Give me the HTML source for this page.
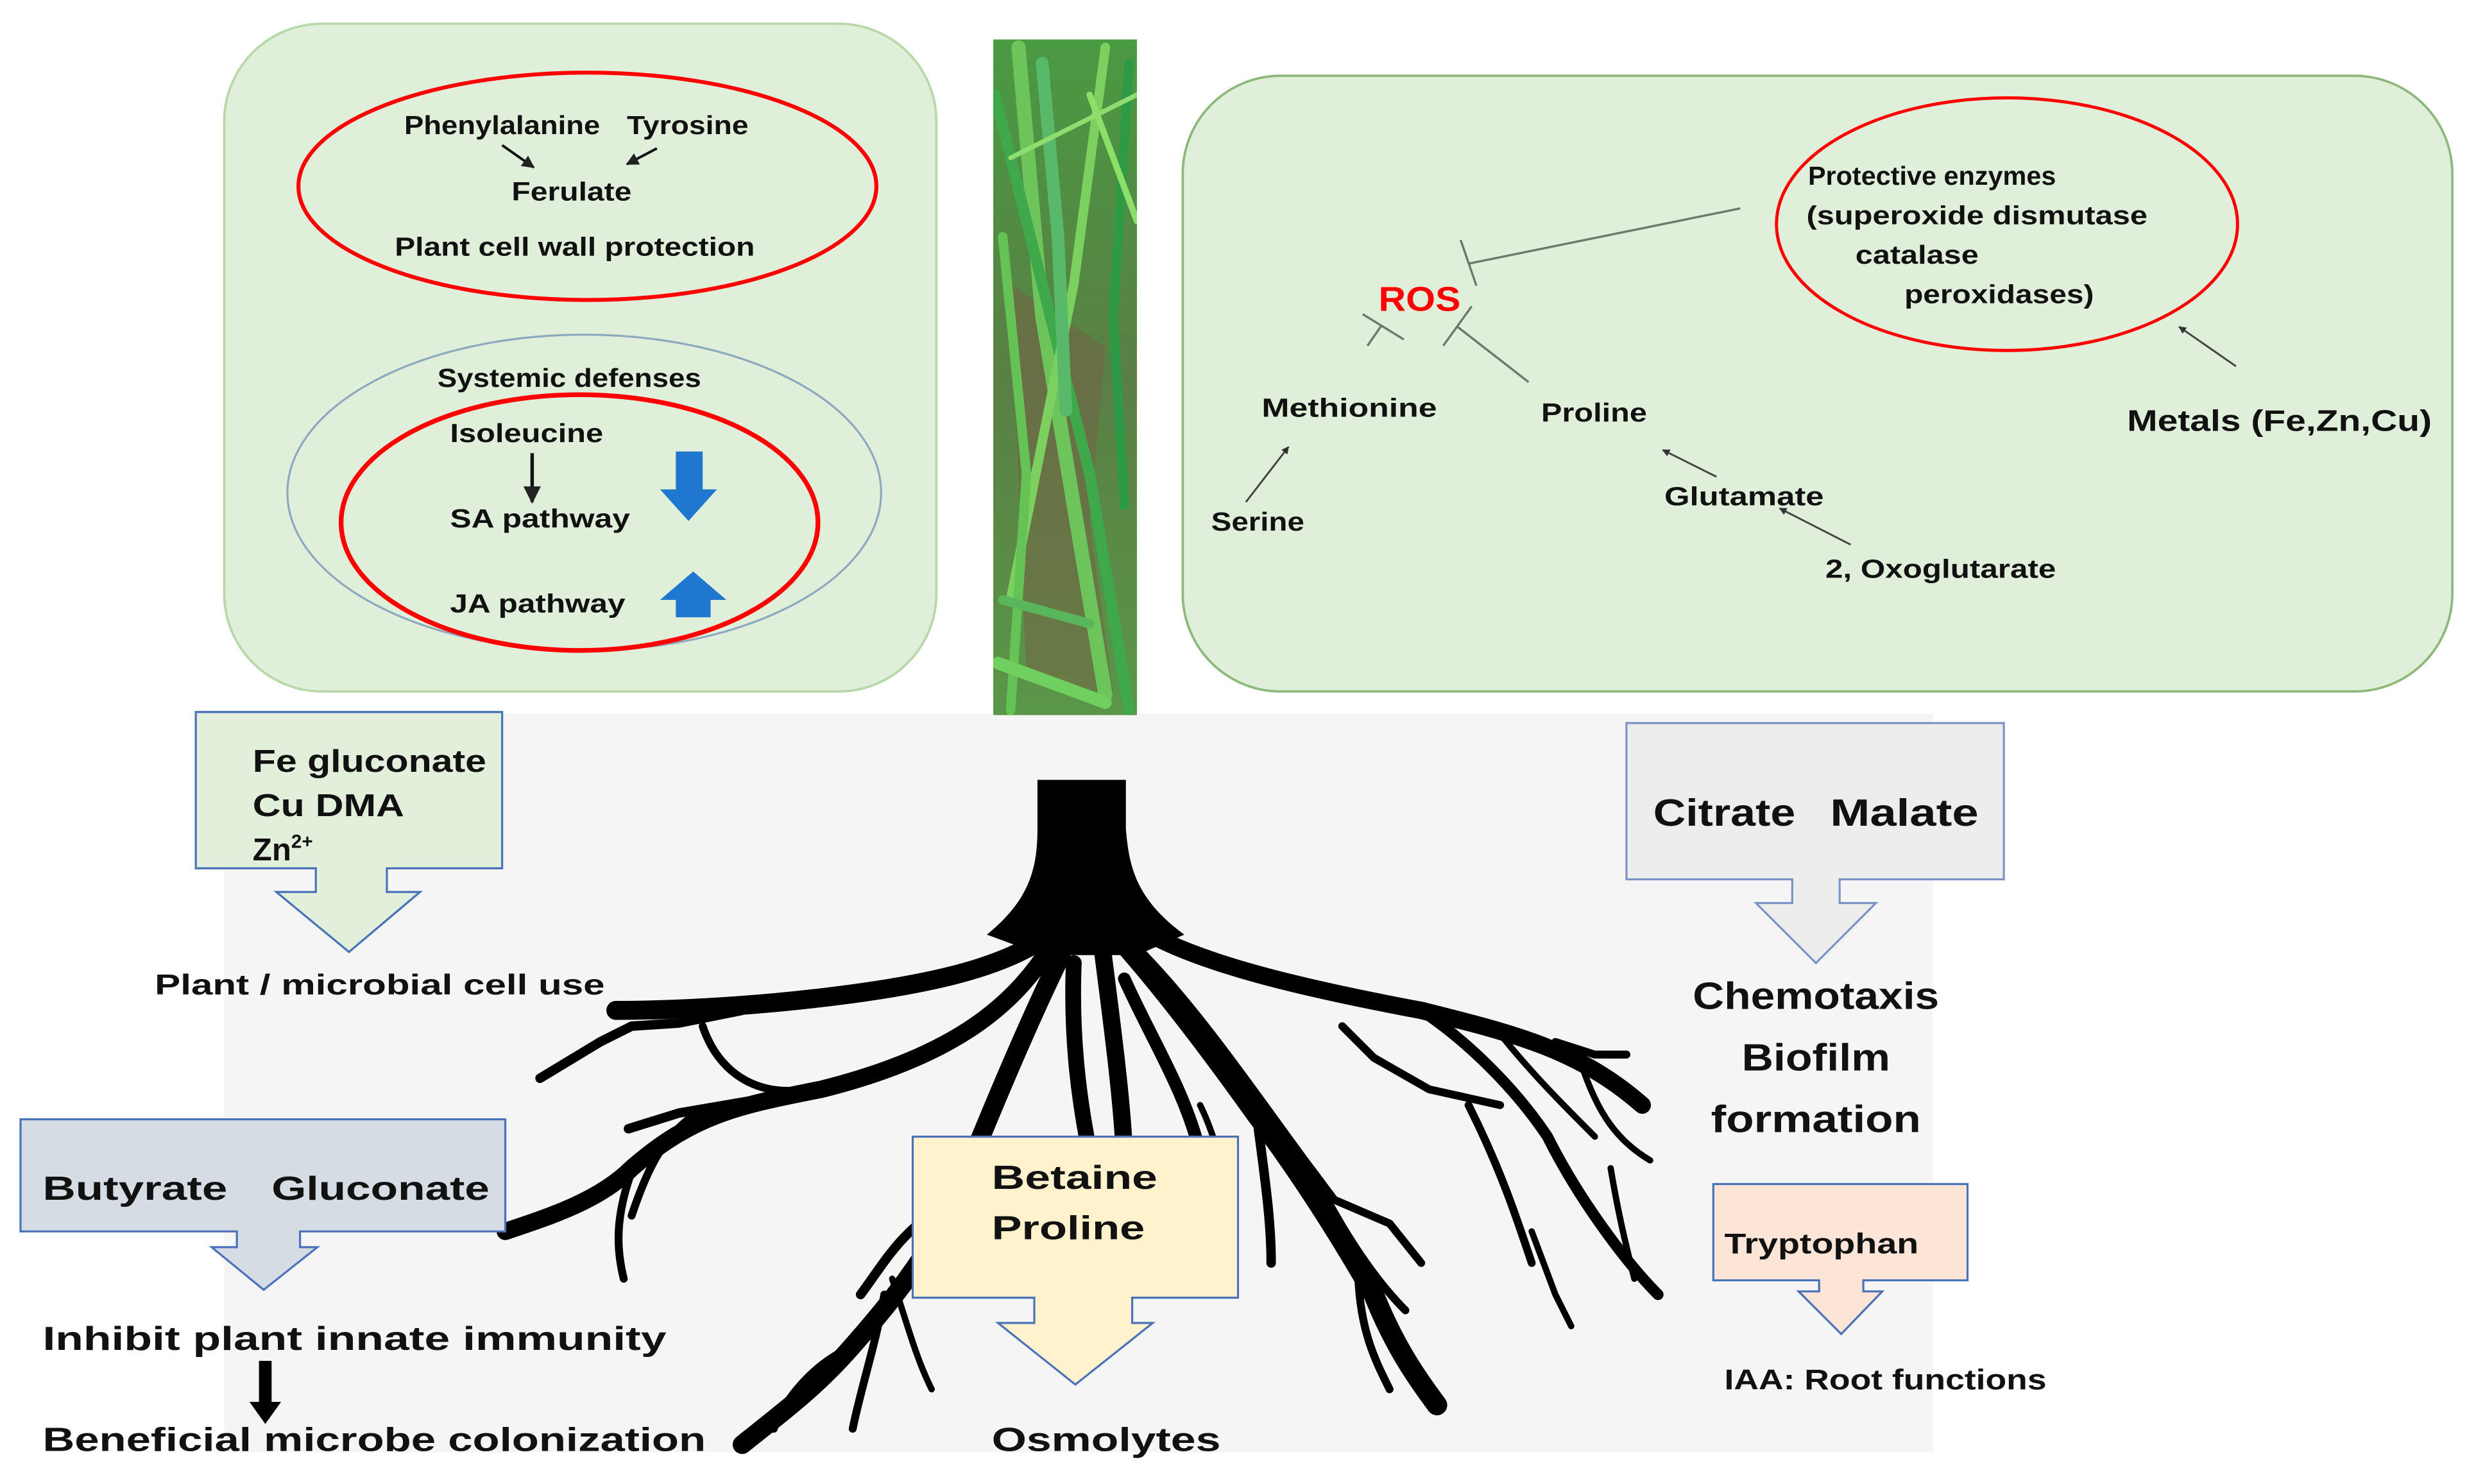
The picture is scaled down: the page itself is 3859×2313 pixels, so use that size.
<!DOCTYPE html>
<html><head><meta charset="utf-8"><style>
html,body{margin:0;padding:0;background:#fff}
svg{display:block}
text{font-family:"Liberation Sans",sans-serif;font-weight:bold;fill:#111}
</style></head><body>
<svg width="3859" height="2313" viewBox="0 0 1568 940" preserveAspectRatio="none" xmlns="http://www.w3.org/2000/svg">
<defs>
<marker id="ah" viewBox="0 0 10 10" refX="9" refY="5" markerWidth="5" markerHeight="5" orient="auto"><path d="M0,0L10,5L0,10z" fill="#222"/></marker>
<marker id="ah2" viewBox="0 0 10 10" refX="9" refY="5" markerWidth="4" markerHeight="4" orient="auto"><path d="M0,0L10,5L0,10z" fill="#333"/></marker>
<linearGradient id="grass" x1="0" y1="0" x2="0" y2="1">
<stop offset="0" stop-color="#4a9a42"/><stop offset="0.5" stop-color="#5a7f45"/><stop offset="1" stop-color="#5a9648"/></linearGradient>
<clipPath id="gc"><rect x="629" y="25" width="91" height="428"/></clipPath>
</defs>

<rect x="142" y="452" width="1082" height="468" fill="#f5f5f5"/>

<!-- left green box -->
<rect x="142" y="15" width="451" height="423" rx="62" fill="#e0efd9" stroke="#b9d8a9" stroke-width="1.5"/>
<ellipse cx="372" cy="118" rx="183" ry="72" fill="none" stroke="#f00" stroke-width="2.5"/>
<text x="256" y="85" font-size="16.5" textLength="124" lengthAdjust="spacingAndGlyphs">Phenylalanine</text>
<text x="397" y="85" font-size="16.5" textLength="77" lengthAdjust="spacingAndGlyphs">Tyrosine</text>
<line x1="318" y1="92" x2="338" y2="106" stroke="#111" stroke-width="1.6" marker-end="url(#ah)"/>
<line x1="416" y1="94" x2="397" y2="104" stroke="#111" stroke-width="1.6" marker-end="url(#ah)"/>
<text x="324" y="127" font-size="16.5" textLength="76" lengthAdjust="spacingAndGlyphs">Ferulate</text>
<text x="250" y="162" font-size="16.5" textLength="228" lengthAdjust="spacingAndGlyphs">Plant cell wall protection</text>

<ellipse cx="370" cy="312" rx="188" ry="100" fill="none" stroke="#8fa8c0" stroke-width="1.3"/>
<ellipse cx="367" cy="331" rx="151" ry="81" fill="none" stroke="#f00" stroke-width="3"/>
<text x="277" y="245" font-size="16.5" textLength="167" lengthAdjust="spacingAndGlyphs">Systemic defenses</text>
<text x="285" y="280" font-size="16.5" textLength="97" lengthAdjust="spacingAndGlyphs">Isoleucine</text>
<line x1="337" y1="287" x2="337" y2="318" stroke="#111" stroke-width="2.2" marker-end="url(#ah)"/>
<text x="285" y="334" font-size="16.5" textLength="114" lengthAdjust="spacingAndGlyphs">SA pathway</text>
<text x="285" y="388" font-size="16.5" textLength="111" lengthAdjust="spacingAndGlyphs">JA pathway</text>
<path d="M428,286 L445,286 L445,310 L454,310 L436,330 L418,310 L428,310 Z" fill="#1f77d0"/>
<path d="M439,362 L460,380 L450,380 L450,391 L428,391 L428,380 L418,380 Z" fill="#1f77d0"/>

<!-- grass photo -->
<g clip-path="url(#gc)">
<rect x="629" y="25" width="91" height="428" fill="url(#grass)"/>
<path d="M640,180 L700,220 L690,330 L705,440 L650,430 Z" fill="#7a5a44" opacity="0.45"/>
<g stroke-linecap="round" fill="none">
<path d="M645,30 L660,200 L700,440" stroke="#6cc45a" stroke-width="9"/>
<path d="M630,60 L690,300 L715,450" stroke="#3fa84a" stroke-width="7"/>
<path d="M700,30 L680,180 L640,380" stroke="#7cd05f" stroke-width="6"/>
<path d="M715,40 L705,200 L712,320" stroke="#2f9a45" stroke-width="6"/>
<path d="M660,40 L670,150 L675,260" stroke="#58b96a" stroke-width="8"/>
<path d="M635,150 L650,300 L640,450" stroke="#65c255" stroke-width="6"/>
<path d="M690,60 L720,140" stroke="#8be06a" stroke-width="4"/>
<path d="M632,420 L700,445" stroke="#6fd060" stroke-width="8"/>
<path d="M635,380 L690,395" stroke="#5ab65a" stroke-width="6"/>
<path d="M640,100 L720,60" stroke="#8fdc70" stroke-width="3"/>
</g>
</g>

<!-- right green box -->
<rect x="749" y="48" width="804" height="390" rx="62" fill="#e0efd9" stroke="#8cb87a" stroke-width="1.5"/>
<ellipse cx="1271" cy="142" rx="146" ry="80" fill="none" stroke="#f00" stroke-width="2"/>
<text x="1145" y="117" font-size="16.5" textLength="157" lengthAdjust="spacingAndGlyphs">Protective enzymes</text>
<text x="1144" y="142" font-size="16.5" textLength="216" lengthAdjust="spacingAndGlyphs">(superoxide dismutase</text>
<text x="1175" y="167" font-size="16.5" textLength="78" lengthAdjust="spacingAndGlyphs">catalase</text>
<text x="1206" y="192" font-size="16.5" textLength="120" lengthAdjust="spacingAndGlyphs">peroxidases)</text>
<text x="873" y="197" font-size="22" style="fill:#f00" textLength="52" lengthAdjust="spacingAndGlyphs">ROS</text>
<g stroke="#6b7a6b" stroke-width="1.4">
<line x1="1102" y1="132" x2="930" y2="167"/>
<line x1="925" y1="152" x2="935" y2="181"/>
<line x1="863" y1="199" x2="889" y2="215"/>
<line x1="875" y1="206" x2="866" y2="219"/>
<line x1="932" y1="194" x2="914" y2="219"/>
<line x1="923" y1="207" x2="968" y2="242"/>
</g>
<text x="799" y="264" font-size="16.5" textLength="111" lengthAdjust="spacingAndGlyphs">Methionine</text>
<text x="976" y="267" font-size="16.5" textLength="67" lengthAdjust="spacingAndGlyphs">Proline</text>
<text x="767" y="336" font-size="16.5" textLength="59" lengthAdjust="spacingAndGlyphs">Serine</text>
<text x="1054" y="320" font-size="16.5" textLength="101" lengthAdjust="spacingAndGlyphs">Glutamate</text>
<text x="1156" y="366" font-size="16.5" textLength="146" lengthAdjust="spacingAndGlyphs">2, Oxoglutarate</text>
<text x="1347" y="273" font-size="19" textLength="193" lengthAdjust="spacingAndGlyphs">Metals (Fe,Zn,Cu)</text>
<g stroke="#444" stroke-width="1.2">
<line x1="789" y1="318" x2="816" y2="283" marker-end="url(#ah2)"/>
<line x1="1087" y1="302" x2="1053" y2="285" marker-end="url(#ah2)"/>
<line x1="1172" y1="345" x2="1127" y2="322" marker-end="url(#ah2)"/>
<line x1="1416" y1="232" x2="1380" y2="207" marker-end="url(#ah2)"/>
</g>

<!-- roots -->
<g fill="none" stroke="#000" stroke-linecap="round" stroke-linejoin="round">
<path d="M660,595 C630,615 580,625 520,632 C470,638 420,640 390,640" stroke-width="12"/>
<path d="M470,640 L430,648 L400,650 L380,660 L342,683" stroke-width="6"/>
<path d="M445,650 C455,680 480,695 510,690" stroke-width="5"/>
<path d="M665,600 C640,640 600,670 520,690 C470,700 440,705 400,740 C380,760 350,770 320,780" stroke-width="11"/>
<path d="M500,693 L430,705 L398,715" stroke-width="6"/>
<path d="M440,706 C420,720 410,740 400,770" stroke-width="5"/>
<path d="M400,742 C390,770 390,790 395,810" stroke-width="5"/>
<path d="M672,605 C650,650 625,710 605,760 C585,800 560,830 535,858 C515,880 495,895 470,915" stroke-width="12"/>
<path d="M600,762 C570,780 560,800 545,820" stroke-width="6"/>
<path d="M560,820 C555,850 545,880 540,905" stroke-width="5"/>
<path d="M530,858 C510,870 495,890 490,905" stroke-width="5"/>
<path d="M565,810 C575,840 580,860 590,880" stroke-width="4"/>
<path d="M680,610 C678,660 684,700 690,730" stroke-width="10"/>
<path d="M698,600 C703,640 710,690 712,730" stroke-width="11"/>
<path d="M712,620 C730,660 750,690 760,730" stroke-width="8"/>
<path d="M712,598 C740,630 770,670 795,705 C825,745 850,785 870,820 C882,850 895,870 910,890" stroke-width="13"/>
<path d="M795,700 C800,740 805,770 805,800" stroke-width="6"/>
<path d="M860,800 C860,840 870,860 880,880" stroke-width="5"/>
<path d="M725,590 C760,610 820,625 900,640 C960,655 1000,665 1040,700" stroke-width="11"/>
<path d="M900,640 C930,660 960,690 980,720 C1000,760 1030,800 1050,820" stroke-width="7"/>
<path d="M950,655 C970,680 990,700 1010,720" stroke-width="4"/>
<path d="M985,660 L1010,668 L1030,668" stroke-width="5"/>
<path d="M1000,670 C1010,700 1020,720 1045,735" stroke-width="4"/>
<path d="M1020,740 C1025,770 1030,790 1035,810" stroke-width="4"/>
<path d="M720,600 C760,640 800,700 830,740 C850,780 870,810 890,830" stroke-width="5"/>
<path d="M830,740 L845,760 L880,775 L900,800" stroke-width="5"/>
<path d="M850,650 L870,670 L905,690 L950,700" stroke-width="5"/>
<path d="M930,700 C950,740 960,770 970,800" stroke-width="5"/>
<path d="M970,780 L985,820 L995,840" stroke-width="4"/>
<path d="M760,700 C770,720 775,745 780,760" stroke-width="4"/>
</g>
<path d="M657,494 L713,494 L713,525 C715,550 720,570 750,592 L720,605 L660,605 L625,592 C652,570 657,550 657,525 Z" fill="#000"/>

<!-- Fe box -->
<path d="M124,451 L318,451 L318,550 L245,550 L245,565 L266,565 L221,603 L175,565 L200,565 L200,550 L124,550 Z" fill="#e2efda" stroke="#4a72b8" stroke-width="1.3"/>
<text x="160" y="489" font-size="20" textLength="148" lengthAdjust="spacingAndGlyphs">Fe gluconate</text>
<text x="160" y="517" font-size="20" textLength="96" lengthAdjust="spacingAndGlyphs">Cu DMA</text>
<text x="160" y="545" font-size="20">Zn<tspan font-size="12" dy="-8">2+</tspan></text>
<text x="98" y="630" font-size="18" textLength="285" lengthAdjust="spacingAndGlyphs">Plant / microbial cell use</text>

<!-- Butyrate box -->
<path d="M13,709 L320,709 L320,780 L190,780 L190,790 L201,790 L167,817 L134,790 L150,790 L150,780 L13,780 Z" fill="#d6dce4" stroke="#4a72b8" stroke-width="1.3"/>
<text x="27" y="760" font-size="21" textLength="117" lengthAdjust="spacingAndGlyphs">Butyrate</text>
<text x="172" y="760" font-size="21" textLength="138" lengthAdjust="spacingAndGlyphs">Gluconate</text>
<text x="27" y="855" font-size="21" textLength="395" lengthAdjust="spacingAndGlyphs">Inhibit plant innate immunity</text>
<path d="M164,862 L172,862 L172,888 L178,888 L168,902 L158,888 L164,888 Z" fill="#000"/>
<text x="27" y="919" font-size="21" textLength="420" lengthAdjust="spacingAndGlyphs">Beneficial microbe colonization</text>

<!-- Betaine box -->
<path d="M578,720 L784,720 L784,822 L717,822 L717,838 L730,838 L681,877 L632,838 L655,838 L655,822 L578,822 Z" fill="#fff2cc" stroke="#4a72b8" stroke-width="1.3"/>
<text x="628" y="753" font-size="21" textLength="105" lengthAdjust="spacingAndGlyphs">Betaine</text>
<text x="628" y="785" font-size="21" textLength="97" lengthAdjust="spacingAndGlyphs">Proline</text>
<text x="628" y="919" font-size="21" textLength="145" lengthAdjust="spacingAndGlyphs">Osmolytes</text>

<!-- Citrate box -->
<path d="M1030,458 L1269,458 L1269,557 L1165,557 L1165,572 L1188,572 L1150,610 L1112,572 L1135,572 L1135,557 L1030,557 Z" fill="#ededed" stroke="#7b94c4" stroke-width="1.3"/>
<text x="1047" y="523" font-size="24" textLength="90" lengthAdjust="spacingAndGlyphs">Citrate</text>
<text x="1159" y="523" font-size="24" textLength="94" lengthAdjust="spacingAndGlyphs">Malate</text>
<text x="1150" y="639" font-size="24" text-anchor="middle" textLength="156" lengthAdjust="spacingAndGlyphs">Chemotaxis</text>
<text x="1150" y="678" font-size="24" text-anchor="middle" textLength="94" lengthAdjust="spacingAndGlyphs">Biofilm</text>
<text x="1150" y="717" font-size="24" text-anchor="middle" textLength="133" lengthAdjust="spacingAndGlyphs">formation</text>

<!-- Tryptophan box -->
<path d="M1085,750 L1246,750 L1246,811 L1180,811 L1180,818 L1192,818 L1166,845 L1139,818 L1152,818 L1152,811 L1085,811 Z" fill="#fce4d6" stroke="#4a72b8" stroke-width="1.3"/>
<text x="1092" y="794" font-size="18" textLength="123" lengthAdjust="spacingAndGlyphs">Tryptophan</text>
<text x="1092" y="880" font-size="18" textLength="204" lengthAdjust="spacingAndGlyphs">IAA: Root functions</text>
</svg>
</body></html>
